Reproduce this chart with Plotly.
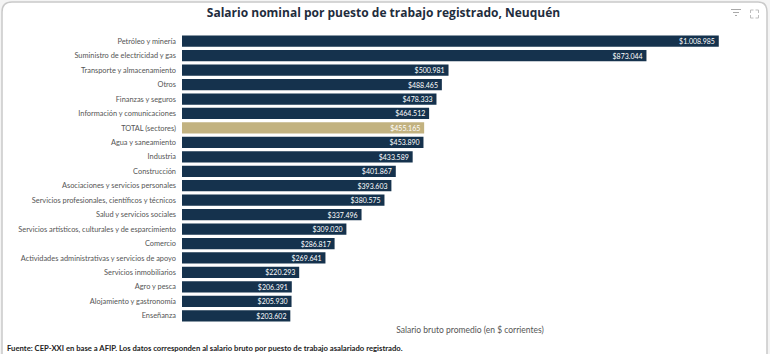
import plotly.graph_objects as go

categories = ["Petróleo y minería", "Suministro de electricidad y gas", "Transporte y almacenamiento",
    "Otros", "Finanzas y seguros", "Información y comunicaciones", "TOTAL (sectores)",
    "Agua y saneamiento", "Industria", "Construcción", "Asociaciones y servicios personales",
    "Servicios profesionales, científicos y técnicos", "Salud y servicios sociales",
    "Servicios artísticos, culturales y de esparcimiento", "Comercio",
    "Actividades administrativas y servicios de apoyo", "Servicios inmobiliarios",
    "Agro y pesca", "Alojamiento y gastronomía", "Enseñanza"]
values = [1008985, 873044, 500981, 488465, 478333, 464512, 455165, 453890, 433589, 401867,
    393603, 380575, 337496, 309020, 286817, 269641, 220293, 206391, 205930, 203602]
highlight = "TOTAL (sectores)"

def label(v):
    return "$" + f"{v:,}".replace(",", ".")

W, H = 770, 354
L, R, T, B = 182, 12, 34, 31
pw, ph = W - L - R, H - T - B
px = lambda x: (x - L) / pw
py = lambda y: 1 - (y - T) / ph

colors = ["#C2B280" if c == highlight else "#15324D" for c in categories]
fig = go.Figure(go.Bar(
    x=values, y=categories, orientation="h",
    marker=dict(color=colors, line_width=0),
    width=0.78,
    text=[label(v) + "\u2009" for v in values],
    textposition="inside", insidetextanchor="end", constraintext="none", textangle=0,
    textfont=dict(family="Lato", size=7, color="#FFFFFF"),
    cliponaxis=False,
    hoverinfo="skip",
))

shapes = [
    dict(type="path", xref="paper", yref="paper", layer="below",
         path=f"M {px(2)} {py(358)} L {px(2)} {py(12)} Q {px(2)} {py(2)} {px(12)} {py(2)} "
              f"L {px(758)} {py(2)} Q {px(767)} {py(2)} {px(767)} {py(12)} L {px(767)} {py(358)} Z",
         line=dict(color="#C9C9C9", width=1.5), fillcolor="#FFFFFF"),
]
for (x0, x1, y) in [(731, 741, 9.5), (733, 739, 12.5), (735, 737, 15.5)]:
    shapes.append(dict(type="line", xref="paper", yref="paper", x0=px(x0), x1=px(x1), y0=py(y), y1=py(y),
                       line=dict(color="#A9A9A9", width=1)))
for (cx, cy, dx, dy) in [(750.5, 10, 3, 3), (758.5, 10, -3, 3), (750.5, 18, 3, -3), (758.5, 18, -3, -3)]:
    shapes.append(dict(type="path", xref="paper", yref="paper",
                       path=f"M {px(cx + dx)} {py(cy)} L {px(cx)} {py(cy)} L {px(cx)} {py(cy + dy)}",
                       line=dict(color="#BDBDBD", width=1)))

fig.update_layout(
    width=W, height=H, autosize=False,
    margin=dict(l=L, r=R, t=T, b=B, autoexpand=False),
    paper_bgcolor="#F4F4F4", plot_bgcolor="rgba(0,0,0,0)",
    showlegend=False, shapes=shapes,
    title=dict(text="<b>Salario nominal por puesto de trabajo registrado, Neuquén</b>",
               x=383.5 / W, xanchor="center", y=1 - 13 / H, yanchor="middle",
               font=dict(family="Open Sans", size=12, color="#1F2D3D")),
    xaxis=dict(automargin=False, range=[0, pw / 0.000532], showgrid=False, zeroline=False, showticklabels=False,
               ticks="", showline=False,
               title=dict(text="Salario bruto promedio (en $ corrientes)", standoff=4,
                          font=dict(family="Lato", size=8.5, color="#555555"))),
    yaxis=dict(automargin=False, categoryorder="array", categoryarray=categories, autorange="reversed",
               showgrid=False, zeroline=False, showline=False, ticks="", ticklabelstandoff=5,
               tickfont=dict(family="Lato", size=7.4, color="#555555")),
    annotations=[dict(text="<b>Fuente: CEP-XXI en base a AFIP. Los datos corresponden al salario bruto por puesto de trabajo asalariado registrado.</b>",
                      xref="paper", yref="paper", x=px(5), y=py(348), xanchor="left", yanchor="middle",
                      showarrow=False, font=dict(family="Lato", size=7.7, color="#222222"))],
)
fig.write_html("out.html", config=dict(displayModeBar=False),
               post_script="document.body.style.margin='0';document.documentElement.style.overflow='hidden';")
